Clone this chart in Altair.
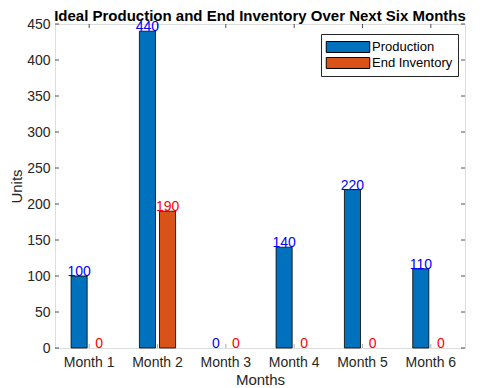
import altair as alt
import pandas as pd

months = ["Month 1", "Month 2", "Month 3", "Month 4", "Month 5", "Month 6"]
production = [100, 440, 0, 140, 220, 110]
end_inventory = [0, 190, 0, 0, 0, 0]
series = ["Production", "End Inventory"]
series_colors = ["#0072BD", "#D95319"]
label_colors = ["#0000FF", "#FF0000"]
y_ticks = [0, 50, 100, 150, 200, 250, 300, 350, 400, 450]

rows = []
for m, p, e in zip(months, production, end_inventory):
    rows.append({"month": m, "series": series[0], "value": p})
    rows.append({"month": m, "series": series[1], "value": e})
df = pd.DataFrame(rows)
ytick_df = pd.DataFrame({"v": y_ticks})
xtick_df = pd.DataFrame({"month": months})

FONT = "Liberation Sans"
AX = "#262626"

x_scale = alt.Scale(domain=months, paddingInner=0, paddingOuter=0)
y_scale = alt.Scale(domain=[0, 450], nice=False)

x_axis = alt.Axis(title="Months", labelAngle=0, labelFontSize=14,
                  titleFontSize=15, labelColor=AX, titleColor=AX,
                  domain=False, ticks=False, labelPadding=7,
                  bandPosition=0.5, grid=False,
                  titlePadding=3, labelFont=FONT, titleFont=FONT,
                  titleFontWeight="normal")
y_axis = alt.Axis(title="Units", values=y_ticks, grid=False,
                  labelOverlap=False, labelFontSize=14, titleFontSize=15,
                  labelColor=AX, titleColor=AX, domain=False,
                  ticks=False, labelPadding=5, titlePadding=2,
                  labelFont=FONT, titleFont=FONT,
                  titleFontWeight="normal")

x_enc = alt.X("month:N", sort=months, scale=x_scale, axis=x_axis, title="Months")
xoff = alt.XOffset("series:N", sort=series,
                   scale=alt.Scale(domain=series, paddingInner=0.2, paddingOuter=0.8))

bars = alt.Chart(df).transform_filter("datum.value > 0").mark_bar(
    stroke="#000000", strokeWidth=0.8).encode(
    x=x_enc,
    xOffset=xoff,
    y=alt.Y("value:Q", scale=y_scale, axis=y_axis, title="Units"),
    color=alt.Color("series:N", sort=series,
                    scale=alt.Scale(domain=series, range=series_colors),
                    legend=alt.Legend(title=None, orient="none",
                                      legendX=266, legendY=10,
                                      labelFontSize=13, labelFont=FONT,
                                      labelColor="#000000",
                                      symbolType="M-2.9,-0.73H2.9V0.73H-2.9Z",
                                      symbolSize=225, symbolStrokeColor="#000000",
                                      symbolStrokeWidth=1, symbolOpacity=1,
                                      symbolOffset=14, labelOffset=16,
                                      strokeColor=AX, fillColor="#ffffff",
                                      padding=5, rowPadding=0,
                                      labelLimit=200)),
)

labels = alt.Chart(df).mark_text(baseline="bottom", dy=3, fontSize=14,
                                 font=FONT).encode(
    x=x_enc,
    xOffset=xoff,
    y=alt.Y("value:Q", scale=y_scale, axis=y_axis, title="Units"),
    text=alt.Text("value:Q"),
    color=alt.Color("series:N", sort=series,
                    scale=alt.Scale(domain=series, range=label_colors),
                    legend=None),
)

y_enc_t = alt.Y("v:Q", scale=y_scale, axis=y_axis, title="Units")
x_enc_t = alt.X("month:N", sort=months, scale=x_scale, axis=x_axis,
                title="Months", bandPosition=0.5)

yt_left = alt.Chart(ytick_df).mark_rule(color=AX, strokeWidth=0.8).encode(
    y=y_enc_t, x=alt.value(0), x2=alt.value(4))
yt_right = alt.Chart(ytick_df).mark_rule(color=AX, strokeWidth=0.8).encode(
    y=y_enc_t, x=alt.value(410), x2=alt.value(406))
xt_bot = alt.Chart(xtick_df).mark_rule(color="#999999", strokeWidth=0.8).encode(
    x=x_enc_t, y=alt.value(324), y2=alt.value(320))
xt_top = alt.Chart(xtick_df).mark_rule(color=AX, strokeWidth=0.8).encode(
    x=x_enc_t, y=alt.value(0), y2=alt.value(4))

chart = alt.layer(bars, xt_bot, labels, yt_left, yt_right, xt_top).resolve_scale(
    color="independent").properties(
    width=410, height=324,
    title=alt.TitleParams("Ideal Production and End Inventory Over Next Six Months",
                          fontSize=15, font=FONT, fontWeight="bold",
                          color="#000000", offset=-7, frame="group"),
    padding={"left": 47, "top": 16, "right": 14, "bottom": 40},
    autosize=alt.AutoSizeParams(type="none"),
).configure_view(stroke=AX, strokeWidth=1).configure(background="#ffffff")

chart.save("out.html", embed_options={"renderer": "svg", "actions": False})
